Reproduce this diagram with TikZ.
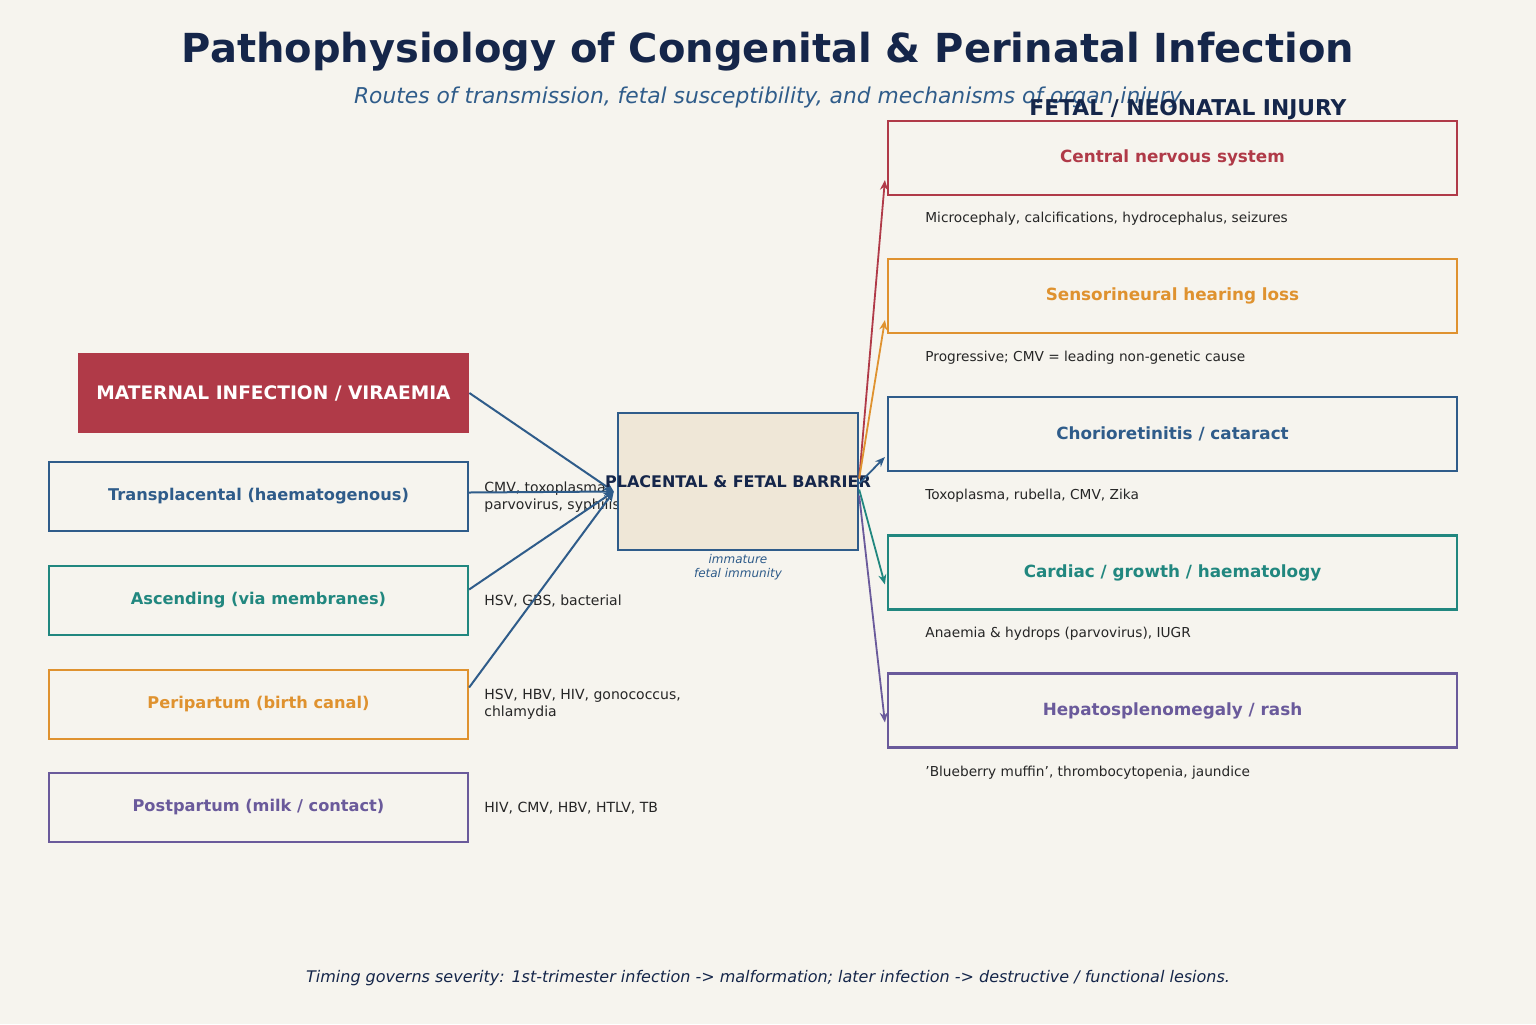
\documentclass[tikz,border=0pt]{standalone}
\usepackage{fontspec}
\setmainfont{DejaVu Sans}[BoldFont=DejaVu Sans Bold,ItalicFont=DejaVu Sans Oblique,BoldItalicFont=DejaVu Sans Bold Oblique]
\usetikzlibrary{arrows.meta,positioning,calc}
\definecolor{bgcream}{HTML}{F6F4EE}
\definecolor{navy}{HTML}{15264A}
\definecolor{routeblue}{HTML}{2F5C8A}
\definecolor{routeteal}{HTML}{21877F}
\definecolor{routeorange}{HTML}{DF922F}
\definecolor{routepurple}{HTML}{6A5A9B}
\definecolor{injred}{HTML}{B03A48}
\definecolor{barrierfill}{HTML}{EFE7D7}
\definecolor{txtgrey}{HTML}{262626}
\tikzset{
  route/.style={draw=#1,line width=1.1pt,fill=bgcream,minimum width=209.5pt,minimum height=34.5pt,inner sep=0pt,text=#1,font=\fontsize{8.1}{10}\selectfont\bfseries},
  injury/.style={draw=#1,line width=1.1pt,fill=bgcream,minimum width=284.5pt,minimum height=37pt,inner sep=0pt,text=#1,font=\fontsize{8.4}{10}\selectfont\bfseries},
  agent/.style={anchor=west,align=left,inner sep=0pt,text=txtgrey,font=\fontsize{7}{8.3}\selectfont},
  effect/.style={anchor=west,inner sep=0pt,text=txtgrey,font=\fontsize{6.85}{8}\selectfont},
  feed/.style={-{Stealth[length=5pt,width=4.5pt]},line width=1pt,draw=routeblue},
  hit/.style={-{Stealth[length=5pt,width=4pt]},line width=0.9pt,draw=#1}
}

\begin{document}
\begin{tikzpicture}[x=0.5pt,y=-0.5pt]
  \fill[bgcream] (0,0) rectangle (1536,1024);
  \useasboundingbox (0,0) rectangle (1536,1024);

  \node (title) [text=navy,font=\fontsize{20}{22}\selectfont\bfseries] at (768,52) {Pathophysiology of Congenital \& Perinatal Infection};
  \node (subtitle) [text=routeblue,font=\fontsize{10.9}{12}\selectfont\itshape] at (768,97) {Routes of transmission, fetal susceptibility, and mechanisms of organ injury};

  % transmission routes (left column)
  \node (maternal) [fill=injred,minimum width=195.5pt,minimum height=40pt,inner sep=0pt,text=white,font=\fontsize{9.3}{11}\selectfont\bfseries] at (273.5,393) {MATERNAL INFECTION / VIRAEMIA};
  \node (transp) [route=routeblue] at (258.5,496.5) {Transplacental (haematogenous)};
  \node (ascend) [route=routeteal] at (258.5,600.5) {Ascending (via membranes)};
  \node (peripart) [route=routeorange] at (258.5,704.5) {Peripartum (birth canal)};
  \node (postpart) [route=routepurple] at (258.5,807.5) {Postpartum (milk / contact)};

  \node (transpag) [agent] at (484,497) {CMV, toxoplasma,\\parvovirus, syphilis};
  \node (ascendag) [agent] at (484,601) {HSV, GBS, bacterial};
  \node (peripartag) [agent] at (484,704) {HSV, HBV, HIV, gonococcus,\\chlamydia};
  \node (postpartag) [agent] at (484,808) {HIV, CMV, HBV, HTLV, TB};

  % barrier in the middle
  \node (barrier) [draw=routeblue,line width=1.2pt,fill=barrierfill,minimum width=120pt,minimum height=68.5pt,inner sep=0pt] at (738,481.5) {};
  \coordinate (bin) at ($(barrier.west)+(-3,10)$);

  \draw[feed] (maternal.east) -- (bin);
  \draw[feed] ([yshift=2pt]transp.east) -- (bin);
  \draw[feed] ([yshift=5.5pt]ascend.east) -- (bin);
  \draw[feed] ([yshift=8.5pt]peripart.east) -- (bin);

  \node (barriertxt) [text=navy,font=\fontsize{8}{9}\selectfont\bfseries] at (738,482) {PLACENTAL \& FETAL BARRIER};
  \node (immunity) [below=1.5pt of barrier,inner sep=0pt,align=center,text=routeblue,font=\fontsize{6}{7}\selectfont\itshape] {immature\\fetal immunity};

  % injury column (right)
  \node (header) [text=navy,font=\fontsize{10.9}{12}\selectfont\bfseries] at (1188,110) {FETAL / NEONATAL INJURY};
  \node (cns) [injury=injred] at (1172.5,158) {Central nervous system};
  \node (hearing) [injury=routeorange] at (1172.5,296) {Sensorineural hearing loss};
  \node (eye) [injury=routeblue] at (1172.5,434) {Chorioretinitis / cataract};
  \node (cardiac) [injury=routeteal] at (1172.5,572.5) {Cardiac / growth / haematology};
  \node (hepato) [injury=routepurple] at (1172.5,710.5) {Hepatosplenomegaly / rash};

  \node (cnsfx) [effect] at (925,219) {Microcephaly, calcifications, hydrocephalus, seizures};
  \node (hearingfx) [effect] at (925,358) {Progressive; CMV = leading non-genetic cause};
  \node (eyefx) [effect] at (925,496) {Toxoplasma, rubella, CMV, Zika};
  \node (cardiacfx) [effect] at (925,634) {Anaemia \& hydrops (parvovirus), IUGR};
  \node (hepatofx) [effect] at (925,773) {'Blueberry muffin', thrombocytopenia, jaundice};

  \draw[hit=injred] ([yshift=1.5pt]barrier.east) -- ([yshift=-11pt,xshift=-1pt]cns.west);
  \draw[hit=routeorange] ([yshift=1.5pt]barrier.east) -- ([yshift=-12pt,xshift=-1pt]hearing.west);
  \draw[hit=routeblue] ([yshift=-1pt]barrier.east) -- ([yshift=-11.5pt,xshift=-1pt]eye.west);
  \draw[hit=routeteal] ([yshift=-4pt]barrier.east) -- ([yshift=-6pt,xshift=-1pt]cardiac.west);
  \draw[hit=routepurple] ([yshift=-7pt]barrier.east) -- ([yshift=-6pt,xshift=-1pt]hepato.west);

  \node (footer) [text=navy,font=\fontsize{8}{10}\selectfont\itshape] at (768,978) {Timing governs severity: 1st-trimester infection -> malformation; later infection -> destructive / functional lesions.};
\end{tikzpicture}
\end{document}
